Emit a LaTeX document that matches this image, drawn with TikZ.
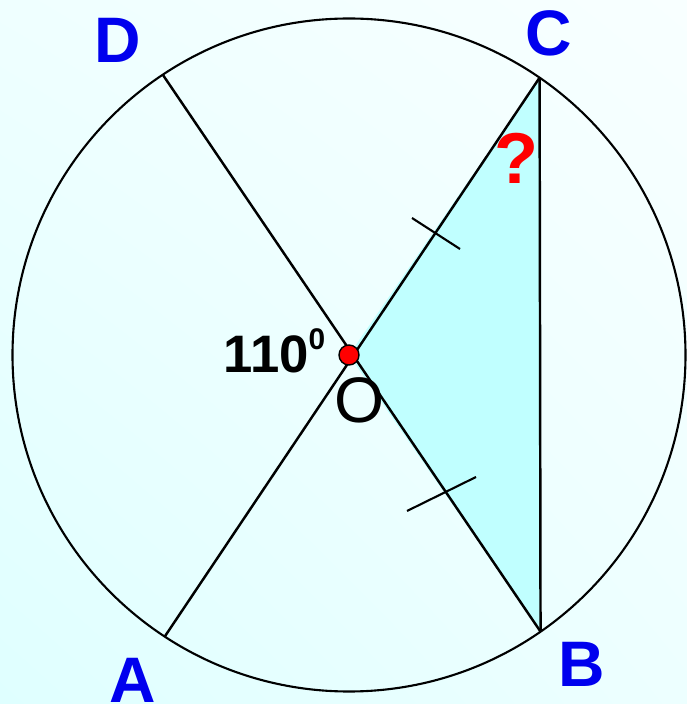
\documentclass[tikz,border=0pt]{standalone}
\usepackage{fontspec}
\setmainfont{Liberation Sans}
\usetikzlibrary{calc, shadings}
\definecolor{ptBlue}{HTML}{0000EE}
\definecolor{bgLowLeft}{HTML}{DFFFFF}
\definecolor{bgUpLeft}{HTML}{EFFFFF}
\definecolor{bgUpRight}{HTML}{F8FFFF}
\definecolor{bgLowRight}{HTML}{EDFFFF}
\definecolor{triFill}{HTML}{C0FFFF}
\tikzset{
  ptlabel/.style={font=\bfseries\fontsize{18.3}{20}\selectfont, text=ptBlue, inner sep=0pt},
  chord/.style={line width=0.7pt, black}
}

\begin{document}
\begin{tikzpicture}
    % background
    \shade[lower left=bgLowLeft, upper left=bgUpLeft, upper right=bgUpRight, lower right=bgLowRight]
        (0,0) rectangle (6.87,7.04);
    \useasboundingbox (0,0) rectangle (6.87,7.04);
    % centre and points on the circle
    \coordinate (O) at (3.49,3.49);
    \coordinate (C) at ($(O)+(55.5:3.365)$);
    \coordinate (B) at ($(O)+(-55.3:3.365)$);
    \coordinate (D) at ($(O)+(123.6:3.365)$);
    \coordinate (A) at ($(O)+(236.8:3.365)$);
    % shaded triangle
    \fill[triFill] (O) -- (C) -- (B) -- cycle;
    % circle and diameters
    \draw[line width=0.6pt] (O) circle (3.365);
    \draw[chord] (D) -- (B);
    \draw[chord] (A) -- (C);
    \draw[chord] (C) -- (B);
    % equal marks
    \draw[line width=0.6pt] (4.12,4.86) -- (4.60,4.55);
    \draw[line width=0.6pt] (4.07,1.93) -- (4.76,2.27);
    % centre dot
    \fill[red, draw=black, line width=0.4pt] (O) circle (0.1);
    % labels
    \node[ptlabel] (labD) at (1.18,6.64) {D};
    \node[ptlabel] (labC) at (5.49,6.71) {C};
    \node[ptlabel] (labB) at (5.82,0.40) {B};
    \node[ptlabel] (labA) at (1.33,0.24) {A};
    \node[font=\bfseries\fontsize{20.5}{22}\selectfont, text=red, inner sep=0pt] (ask) at (5.17,5.46) {?};
    \node[font=\fontsize{18.3}{20}\selectfont, inner sep=0pt] (labO) at (3.60,3.04) {O};
    \node[font=\bfseries\fontsize{15}{16}\selectfont, anchor=base east, inner sep=0pt] (angle) at (3.26,3.31)
        {110\raisebox{0.23cm}{\fontsize{8.5}{9}\selectfont 0}};
\end{tikzpicture}
\end{document}
